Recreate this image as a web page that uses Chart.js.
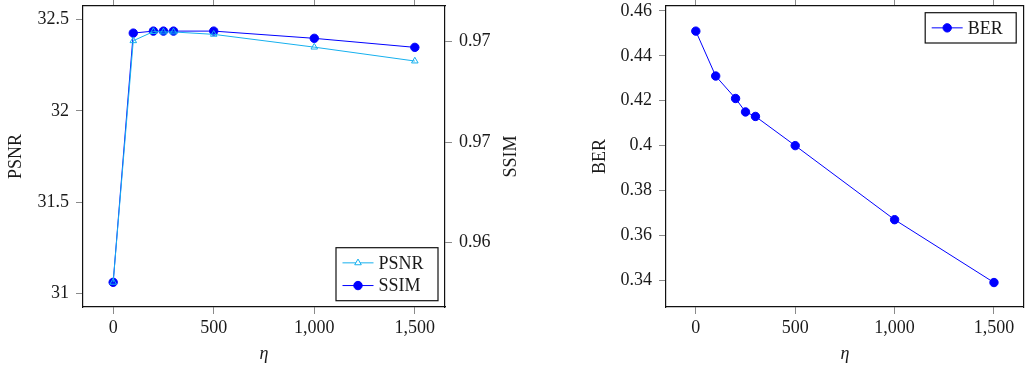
<!DOCTYPE html>
<html>
<head>
<meta charset="utf-8">
<script src="https://cdn.jsdelivr.net/npm/chart.js@4/dist/chart.umd.min.js"></script>
<style>
  body { margin: 0; background: #fff; }
  .panel { position: absolute; top: 0; height: 369px; }
  #leftPanel { left: 0; width: 520px; }
  #rightPanel { left: 520px; width: 509px; }
</style>
</head>
<body>
<div class="panel" id="leftPanel"><canvas id="qualityChart"></canvas></div>
<div class="panel" id="rightPanel"><canvas id="berChart"></canvas></div>
<script>
// Valeurs
const etaValues = [0, 100, 200, 250, 300, 500, 1000, 1500];
const psnrValues = [31.062, 32.383, 32.433, 32.431, 32.431, 32.418, 32.348, 32.272];
const ssimValues = [0.95802, 0.97043, 0.97053, 0.97053, 0.97053, 0.97053, 0.97017, 0.96972];
const berValues = [0.451, 0.431, 0.421, 0.415, 0.413, 0.400, 0.367, 0.339];

// Graduations
const etaTicks = [0, 500, 1000, 1500];
const psnrTicks = [31, 31.5, 32, 32.5];
const ssimTicks = [0.96, 0.965, 0.97];
const ssimTickLabels = ['0.96', '0.97', '0.97'];
const berTicks = [0.34, 0.36, 0.38, 0.40, 0.42, 0.44, 0.46];

const FONT = "'Liberation Serif', 'Times New Roman', serif";
const TEXT = '#1a1a1a';
const tickFont = { family: FONT, size: 18 };

const toPoints = ys => etaValues.map((x, i) => ({ x: x, y: ys[i] }));
const fixTicks = values => scale => { scale.ticks = values.map(v => ({ value: v })); };

// axe horizontal (bas ou haut)
function etaAxis(position) {
    const top = position === 'top';
    return {
        type: 'linear',
        position: position,
        min: -150,
        max: 1650,
        afterBuildTicks: fixTicks(etaTicks),
        ticks: {
            display: !top,
            font: tickFont,
            color: TEXT,
            padding: 3,
            maxRotation: 0,
            callback: v => v.toLocaleString('en-US')
        },
        grid: { drawOnChartArea: false, tickLength: 7, tickColor: '#8a8a8a', tickWidth: 1 },
        border: { color: '#111', width: 1.2 },
        title: {
            display: !top,
            text: 'η',
            color: TEXT,
            font: { family: FONT, size: 18, style: 'italic' },
            padding: 4
        },
        afterFit: s => { s.height = top ? 6 : 62; s.paddingLeft = 0; s.paddingRight = 0; }
    };
}

// axe vertical
function valueAxis(position, min, max, ticks, labels, title, width, marks) {
    return {
        type: 'linear',
        position: position,
        min: min,
        max: max,
        afterBuildTicks: fixTicks(ticks),
        ticks: {
            display: labels !== null,
            font: tickFont,
            color: TEXT,
            padding: 7,
            callback: (v, i) => labels ? labels[i] : String(v)
        },
        grid: { drawOnChartArea: false, drawTicks: marks !== false, tickLength: 7, tickColor: '#8a8a8a', tickWidth: 1 },
        border: { color: '#111', width: 1.2 },
        title: {
            display: !!title,
            text: title || '',
            color: TEXT,
            font: { family: FONT, size: 18 },
            padding: 5
        },
        afterFit: s => { s.width = width; s.paddingTop = 0; s.paddingBottom = 0; }
    };
}

// légende dessinée dans la zone du graphique
function boxLegend(id, opts) {
    return {
        id: id,
        afterDatasetsDraw(chart) {
            const ctx = chart.ctx;
            const area = chart.chartArea;
            const sets = chart.data.datasets;
            const rowH = 22.7, pad = 3.8;
            const h = sets.length * rowH + 2 * pad;
            const left = area.right - opts.right - opts.width;
            const top = opts.bottom !== undefined ? area.bottom - opts.bottom - h : area.top + opts.top;
            ctx.save();
            ctx.fillStyle = '#fff';
            ctx.fillRect(left, top, opts.width, h);
            ctx.strokeStyle = '#111';
            ctx.lineWidth = 1.2;
            ctx.strokeRect(left, top, opts.width, h);
            sets.forEach((ds, i) => {
                const y = top + pad + rowH * (i + 0.5);
                const x0 = left + 6.5, x1 = x0 + 31, xm = (x0 + x1) / 2;
                ctx.strokeStyle = ds.borderColor;
                ctx.lineWidth = ds.borderWidth;
                ctx.beginPath();
                ctx.moveTo(x0, y);
                ctx.lineTo(x1, y);
                ctx.stroke();
                ctx.beginPath();
                const r = ds.pointRadius;
                if (ds.pointStyle === 'triangle') {
                    for (let k = 0; k < 3; k++) {
                        const a = k * 2 * Math.PI / 3;
                        const px = xm + Math.sin(a) * r, py = y - Math.cos(a) * r;
                        if (k === 0) ctx.moveTo(px, py); else ctx.lineTo(px, py);
                    }
                    ctx.closePath();
                    ctx.fillStyle = '#fff';
                    ctx.fill();
                    ctx.stroke();
                } else {
                    ctx.arc(xm, y, r, 0, 2 * Math.PI);
                    ctx.fillStyle = ds.pointBackgroundColor;
                    ctx.fill();
                    ctx.stroke();
                }
                ctx.fillStyle = TEXT;
                ctx.font = "18px " + FONT;
                ctx.textAlign = 'left';
                ctx.textBaseline = 'middle';
                ctx.fillText(ds.label, x1 + 5, y + 1);
            });
            ctx.restore();
        }
    };
}

// titre de l'axe SSIM, lu de bas en haut comme à gauche
const ssimTitle = {
    id: 'ssimTitle',
    afterDraw(chart) {
        const ctx = chart.ctx;
        const area = chart.chartArea;
        ctx.save();
        ctx.translate(chart.width - 8.5, (area.top + area.bottom) / 2);
        ctx.rotate(-Math.PI / 2);
        ctx.fillStyle = TEXT;
        ctx.font = "18px " + FONT;
        ctx.textAlign = 'center';
        ctx.textBaseline = 'middle';
        ctx.fillText('SSIM', 0, 0);
        ctx.restore();
    }
};

const PSNR_COLOR = '#16b0ee';
const SSIM_COLOR = '#0000ff';

new Chart(document.getElementById('qualityChart'), {
    type: 'line',
    data: {
        datasets: [{
            label: 'PSNR',
            data: toPoints(psnrValues),
            xAxisID: 'x',
            yAxisID: 'y',
            borderColor: PSNR_COLOR,
            backgroundColor: 'rgba(0,0,0,0)',
            borderWidth: 1,
            pointStyle: 'triangle',
            pointRadius: 3.8,
            pointBorderWidth: 1,
            pointBorderColor: PSNR_COLOR,
            pointBackgroundColor: 'rgba(0,0,0,0)',
            tension: 0
        }, {
            label: 'SSIM',
            data: toPoints(ssimValues),
            xAxisID: 'x',
            yAxisID: 'y1',
            borderColor: SSIM_COLOR,
            backgroundColor: SSIM_COLOR,
            borderWidth: 1,
            pointStyle: 'circle',
            pointRadius: 4.2,
            pointBorderWidth: 1,
            pointBorderColor: SSIM_COLOR,
            pointBackgroundColor: SSIM_COLOR,
            tension: 0
        }]
    },
    options: {
        responsive: true,
        maintainAspectRatio: false,
        animation: false,
        layout: { padding: 0 },
        plugins: { legend: { display: false }, tooltip: { enabled: false } },
        scales: {
            x: etaAxis('bottom'),
            x2: etaAxis('top'),
            y: valueAxis('left', 30.927, 32.573, psnrTicks, undefined, 'PSNR', 83),
            y1: valueAxis('right', 0.95679, 0.97178, ssimTicks, ssimTickLabels, null, 75)
        }
    },
    plugins: [boxLegend('qualityLegend', { right: 7, bottom: 6.3, width: 102 }), ssimTitle]
});

new Chart(document.getElementById('berChart'), {
    type: 'line',
    data: {
        datasets: [{
            label: 'BER',
            data: toPoints(berValues),
            xAxisID: 'x',
            yAxisID: 'y',
            borderColor: SSIM_COLOR,
            backgroundColor: SSIM_COLOR,
            borderWidth: 1,
            pointStyle: 'circle',
            pointRadius: 4.2,
            pointBorderWidth: 1,
            pointBorderColor: SSIM_COLOR,
            pointBackgroundColor: SSIM_COLOR,
            tension: 0
        }]
    },
    options: {
        responsive: true,
        maintainAspectRatio: false,
        animation: false,
        layout: { padding: { left: 64 } },
        plugins: { legend: { display: false }, tooltip: { enabled: false } },
        scales: {
            x: etaAxis('bottom'),
            x2: etaAxis('top'),
            y: valueAxis('left', 0.3281, 0.4622, berTicks, undefined, 'BER', 82),
            y2: valueAxis('right', 0.3281, 0.4622, berTicks, null, null, 1, false)
        }
    },
    plugins: [boxLegend('berLegend', { right: 7.6, top: 6.7, width: 91 })]
});
</script>
</body>
</html>
